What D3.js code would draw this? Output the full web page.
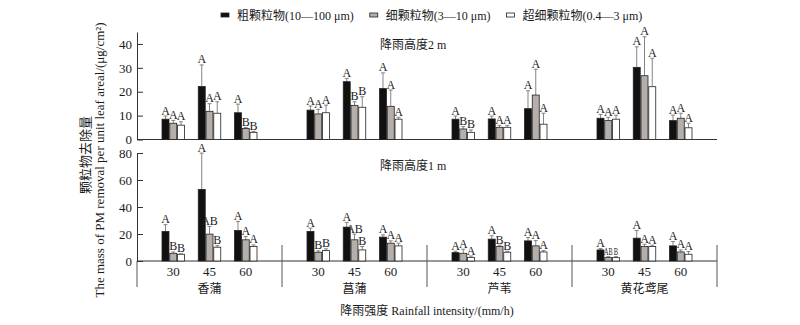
<!DOCTYPE html>
<html><head><meta charset="utf-8">
<script src="https://cdn.jsdelivr.net/npm/d3@7/dist/d3.min.js"></script>
<style>
html,body{margin:0;padding:0;background:#fff;}
text{font-family:"Liberation Serif","Noto Sans CJK SC",serif;fill:#1a1a1a;}
</style></head>
<body><svg id="c" width="800" height="325"></svg>
<script>
// ---------- data ----------
const species = ["香蒲", "菖蒲", "芦苇", "黄花鸢尾"];
const intensities = ["30", "45", "60"];
const seriesNames = ["粗颗粒物(10—100 μm)", "细颗粒物(3—10 μm)", "超细颗粒物(0.4—3 μm)"];

// rainfall height 2 m (order: species x intensity)
const coarse2m = [8.5, 22.2, 11.2, 12.3, 24.2, 21.3, 8.5, 8.6, 12.9, 8.9, 30.2, 7.9];
const coarse2mSD = [1.3, 9.0, 3.6, 1.7, 1.4, 6.6, 1.3, 1.2, 7.5, 1.6, 8.6, 2.3];
const fine2m = [6.8, 11.8, 4.6, 10.7, 14.3, 13.9, 4.4, 5.1, 18.6, 7.9, 26.7, 8.9];
const fine2mSD = [1.2, 3.2, 0.4, 1.9, 1.5, 6.8, 1.0, 0.8, 10.8, 1.4, 16.3, 2.1];
const ultra2m = [6.0, 11.0, 3.0, 11.2, 13.5, 8.5, 3.0, 5.1, 6.4, 8.5, 22.1, 4.9];
const ultra2mSD = [1.4, 4.8, 0.4, 3.2, 4.4, 0.8, 1.0, 0.8, 4.6, 1.7, 11.9, 1.9];
const coarse2mSig = ["A","A","A","A","A","A","A","A","A","A","A","A"];
const fine2mSig = ["A","A","B","A","B","A","B","A","A","A","A","A"];
const ultra2mSig = ["A","A","B","A","B","A","B","A","A","A","A","A"];

// rainfall height 1 m
const coarse1m = [21.9, 53.0, 22.6, 21.9, 25.1, 17.7, 6.2, 16.2, 14.9, 8.2, 16.9, 11.2];
const coarse1mSD = [5.0, 26.9, 6.7, 2.5, 3.5, 1.7, 1.0, 2.5, 2.5, 1.0, 5.7, 3.2];
const fine1m = [5.7, 19.9, 15.7, 6.5, 15.7, 13.2, 5.7, 10.7, 11.2, 2.5, 10.7, 6.7];
const fine1mSD = [1.0, 5.7, 2.4, 1.0, 4.2, 1.7, 3.0, 1.0, 3.9, 0.7, 1.7, 1.5];
const ultra1m = [5.0, 10.2, 10.7, 7.7, 8.2, 11.2, 2.7, 6.5, 6.7, 2.5, 10.7, 5.0];
const ultra1mSD = [0.3, 1.2, 1.2, 1.3, 2.5, 2.0, 1.0, 0.7, 1.0, 0.7, 1.0, 2.0];
const coarse1mSig = ["A","A","A","A","A","A","A","A","A","A","A","A"];
const fine1mSig = ["B","AB","A","B","AB","A","A","B","A","AB","A","A"];
const ultra1mSig = ["B","B","A","B","B","A","A","B","A","B","A","A"];

const ticks2m = [0, 10, 20, 30, 40];
const ticks1m = [0, 20, 40, 60, 80];
const panelTitles = ["降雨高度2 m", "降雨高度1 m"];
const yTitleCN = "颗粒物去除量";
const yTitleEN = "The mass of PM removal per unit leaf areal/(μg/cm²)";
const xTitle = "降雨强度 Rainfall intensity/(mm/h)";

// ---------- build ----------
const fills = ["#111111", "#b5afac", "#ffffff"];
const svg = d3.select("#c");

const x0 = d3.scaleBand().domain(species).range([137, 717]);
const x1 = d3.scalePoint().domain(intensities).range([0, x0.bandwidth()]).padding(1);
const xs = d3.scaleBand().domain(seriesNames).range([-11.25, 11.25]).paddingInner(0.1);

function rows(vals, sds, sigs) {
  const out = [];
  species.forEach((s, si) => intensities.forEach((it, ii) => {
    const k = si * 3 + ii;
    out.push({ s, it, k, v: vals[k], sd: sds[k], sig: sigs[k] });
  }));
  return out;
}

const panels = [
  { title: panelTitles[0], y: d3.scaleLinear().domain([0, 45]).range([139.5, 32]), ticks: ticks2m,
    series: [rows(coarse2m, coarse2mSD, coarse2mSig), rows(fine2m, fine2mSD, fine2mSig), rows(ultra2m, ultra2mSD, ultra2mSig)] },
  { title: panelTitles[1], y: d3.scaleLinear().domain([0, 80]).range([261, 153]), ticks: ticks1m,
    series: [rows(coarse1m, coarse1mSD, coarse1mSig), rows(fine1m, fine1mSD, fine1mSig), rows(ultra1m, ultra1mSD, ultra1mSig)] }
];

panels.forEach((p) => {
  const g = svg.append("g");
  const y = p.y;
  const ax = g.append("g").attr("transform", "translate(137,0)")
    .call(d3.axisLeft(y).tickValues(p.ticks).tickSize(-6).tickSizeOuter(0).tickPadding(5));
  ax.select(".domain").attr("stroke", "#333").attr("stroke-width", 1);
  ax.selectAll(".tick line").attr("stroke", "#333");
  ax.selectAll("text").style("font-size", "13px").attr("fill", "#1a1a1a")
    .style("font-family", "'Liberation Serif',serif");
  g.append("line").attr("x1", 137).attr("x2", 717).attr("y1", y(0)).attr("y2", y(0))
    .attr("stroke", "#333").attr("stroke-width", 1);
  g.append("text").attr("x", 380).attr("y", y.range()[1] + 17).style("font-size", "12px").text(p.title);

  p.series.forEach((data, k) => {
    const name = seriesNames[k];
    const cx = d => x0(d.s) + x1(d.it) + xs(name);
    g.selectAll(null).data(data).enter().append("line")
      .attr("x1", d => cx(d) + xs.bandwidth() / 2).attr("x2", d => cx(d) + xs.bandwidth() / 2)
      .attr("y1", d => y(d.v)).attr("y2", d => y(d.v + d.sd))
      .attr("stroke", "#777").attr("stroke-width", 0.9);
    g.selectAll(null).data(data).enter().append("line")
      .attr("x1", d => cx(d) + xs.bandwidth() / 2 - 2).attr("x2", d => cx(d) + xs.bandwidth() / 2 + 2)
      .attr("y1", d => y(d.v + d.sd)).attr("y2", d => y(d.v + d.sd))
      .attr("stroke", "#777").attr("stroke-width", 0.9);
    g.selectAll(null).data(data).enter().append("rect")
      .attr("x", d => cx(d)).attr("width", xs.bandwidth())
      .attr("y", d => y(d.v)).attr("height", d => y(0) - y(d.v))
      .attr("fill", fills[k]).attr("stroke", "#222").attr("stroke-width", 0.8);
  });

  // letters; squeeze labels that sit level with an adjacent two-letter label
  p.series.forEach((data, k) => {
    const name = seriesNames[k];
    data.forEach(d => {
      const top = o => y(o.v + o.sd);
      const nb = [k - 1, k + 1].filter(j => j >= 0 && j < 3).map(j => p.series[j][d.k]);
      const crowded = nb.some(o => (o.sig.length > 1 || d.sig.length > 1) && Math.abs(top(o) - top(d)) < 6);
      const t = g.append("text")
        .attr("x", x0(d.s) + x1(d.it) + xs(name) + xs.bandwidth() / 2)
        .attr("y", top(d) - 1.5)
        .attr("text-anchor", "middle")
        .style("font-size", crowded ? "10px" : "12px")
        .text(d.sig);
      if (crowded) t.attr("textLength", d.sig.length * 4.3).attr("lengthAdjust", "spacingAndGlyphs");
    });
  });
});

// group separators (bottom)
svg.selectAll(null).data(species.map(s => x0(s)).concat([717])).enter().append("line")
  .attr("x1", d => d).attr("x2", d => d).attr("y1", (d, i) => i === 0 ? 261 : 245).attr("y2", 287)
  .attr("stroke", "#555").attr("stroke-width", 1);

const xt = [];
species.forEach(s => intensities.forEach(it => xt.push({ s, it })));
svg.selectAll(null).data(xt).enter().append("text")
  .attr("x", d => x0(d.s) + x1(d.it)).attr("y", 275.5).attr("text-anchor", "middle")
  .style("font-size", "13px").text(d => d.it);
svg.selectAll(null).data(species).enter().append("text")
  .attr("x", d => x0(d) + x0.bandwidth() / 2).attr("y", 293).attr("text-anchor", "middle")
  .style("font-size", "12px").text(d => d);
svg.append("text").attr("x", 427).attr("y", 315).attr("text-anchor", "middle")
  .style("font-size", "12px").text(xTitle);

svg.append("text").attr("transform", "translate(90,155) rotate(-90)").attr("text-anchor", "middle")
  .style("font-size", "13px").text(yTitleCN);
svg.append("text").attr("transform", "translate(104,160) rotate(-90)").attr("text-anchor", "middle")
  .style("font-size", "13px").text(yTitleEN);

let lx = 221;
seriesNames.forEach((n, k) => {
  svg.append("rect").attr("x", lx).attr("y", 13).attr("width", 8).attr("height", 4)
    .attr("fill", fills[k]).attr("stroke", "#222").attr("stroke-width", 0.8);
  const t = svg.append("text").attr("x", lx + 16).attr("y", 19.5).style("font-size", "12px").text(n);
  lx += 16 + t.node().getComputedTextLength() + 16;
});
</script></body></html>
